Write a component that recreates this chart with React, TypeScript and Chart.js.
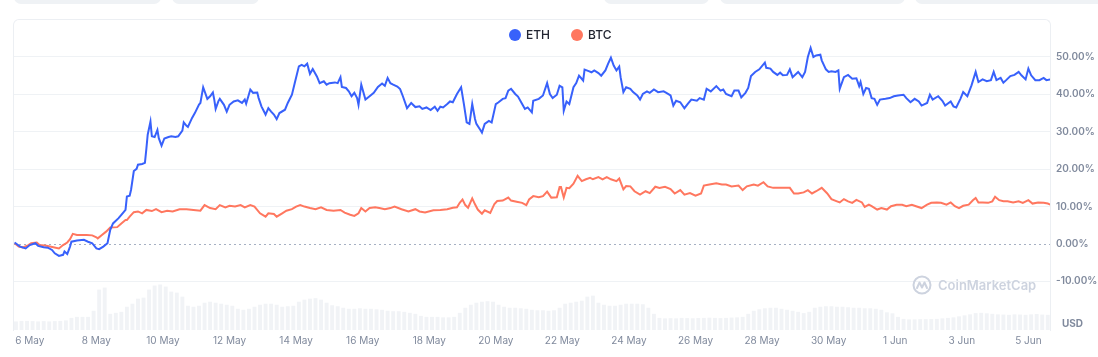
import React, { useEffect, useRef } from "react";
import { Chart, registerables } from "chart.js";

Chart.register(...registerables);

// x axis: hours since 6 May 00:00
const TICK_HOURS = [0, 48, 96, 144, 192, 240, 288, 336, 384, 432, 480, 528, 576, 624, 672, 720];
const DATE_LABELS = ["6 May", "8 May", "10 May", "12 May", "14 May", "16 May", "18 May", "20 May", "22 May", "24 May", "26 May", "28 May", "30 May", "1 Jun", "3 Jun", "5 Jun"];
const Y_TICKS = [-10, 0, 10, 20, 30, 40, 50];

const ETH_HOURS = [-11, -7, -3, 0, 4, 6, 10, 13, 16, 18, 21, 24, 25, 27, 29, 30, 34, 39, 42, 45, 48, 50, 53, 56, 58, 60, 64, 66, 69, 70, 72, 73, 75, 77, 78, 81, 83, 84, 85, 87, 88, 90, 92, 93, 95, 97, 100, 102, 105, 107, 110, 111, 113, 114, 117, 119, 122, 123, 125, 128, 130, 132, 133, 134, 136, 137, 140, 142, 144, 147, 150, 153, 155, 156, 159, 161, 164, 165, 167, 170, 172, 174, 176, 178, 180, 184, 186, 189, 191, 194, 196, 198, 200, 202, 204, 207, 209, 212, 214, 216, 220, 222, 224, 225, 228, 230, 232, 234, 236, 237, 239, 242, 245, 248, 251, 254, 256, 258, 260, 262, 265, 267, 269, 272, 275, 278, 281, 283, 286, 289, 292, 294, 296, 298, 301, 303, 305, 308, 311, 313, 315, 317, 319, 321, 322, 325, 326, 328, 331, 333, 336, 338, 341, 343, 345, 347, 350, 352, 355, 357, 359, 362, 363, 367, 370, 373, 375, 377, 380, 382, 384, 385, 387, 389, 392, 394, 396, 399, 400, 403, 405, 407, 410, 412, 415, 417, 419, 421, 423, 425, 426, 428, 430, 433, 435, 438, 440, 442, 445, 447, 450, 453, 457, 459, 462, 464, 466, 469, 472, 475, 477, 481, 483, 486, 488, 491, 495, 498, 500, 502, 506, 508, 511, 513, 516, 518, 520, 523, 526, 530, 531, 534, 536, 539, 541, 543, 546, 548, 550, 554, 557, 559, 561, 563, 565, 567, 570, 571, 574, 576, 578, 581, 583, 584, 587, 590, 593, 596, 598, 599, 601, 603, 605, 607, 609, 611, 613, 617, 620, 623, 626, 630, 632, 635, 638, 641, 643, 647, 649, 651, 655, 658, 660, 664, 666, 668, 671, 673, 676, 679, 682, 684, 687, 690, 693, 695, 697, 700, 702, 704, 707, 710, 713, 715, 718, 720, 722, 725, 728, 731, 733, 736];
const ETH_CHANGE = [0.4, -0.7, -1.2, -0.3, 0.2, -0.5, -0.9, -1.0, -1.6, -2.5, -3.2, -2.9, -2.0, -2.7, -0.7, 0.6, 0.9, 1.1, 0.6, 0.2, -1.2, -1.4, -0.7, 0.2, 3.8, 5.5, 6.9, 7.8, 9.1, 12.7, 12.9, 14.5, 19.5, 20.1, 21.2, 21.4, 21.7, 25.3, 29.2, 32.7, 28.8, 28.6, 30.5, 28.3, 26.3, 28.2, 28.6, 28.8, 28.6, 28.8, 30.3, 32.5, 31.6, 31.3, 33.7, 35.0, 37.3, 37.7, 41.9, 38.8, 39.5, 40.5, 38.6, 36.1, 38.2, 38.8, 37.2, 35.4, 37.2, 38.1, 38.4, 37.7, 38.6, 37.5, 41.3, 40.4, 40.5, 39.0, 36.8, 34.6, 36.3, 35.4, 34.6, 33.4, 35.0, 35.9, 37.7, 39.9, 43.0, 47.5, 47.9, 47.5, 48.2, 45.5, 46.8, 44.8, 43.0, 43.5, 42.6, 43.0, 43.2, 43.0, 44.6, 42.0, 41.7, 40.8, 39.5, 40.4, 39.0, 37.2, 42.6, 38.6, 39.5, 40.4, 42.0, 42.9, 42.3, 44.4, 43.0, 42.6, 42.1, 41.4, 39.5, 36.3, 37.7, 36.6, 36.8, 36.1, 36.5, 35.8, 36.7, 35.6, 36.7, 36.5, 37.4, 38.1, 37.9, 40.1, 41.9, 37.4, 32.5, 32.1, 37.4, 33.4, 32.1, 30.4, 29.8, 32.1, 32.9, 32.5, 37.4, 37.9, 38.8, 39.0, 41.0, 41.5, 40.1, 39.4, 37.4, 36.1, 36.5, 35.2, 38.3, 38.8, 39.7, 43.0, 40.1, 39.0, 39.9, 42.3, 41.9, 35.6, 38.1, 37.4, 41.9, 43.0, 45.0, 43.7, 46.6, 46.2, 45.9, 46.4, 45.7, 45.0, 46.4, 48.2, 49.8, 47.7, 46.4, 47.4, 44.6, 40.6, 41.9, 41.5, 40.6, 39.7, 38.6, 40.1, 40.8, 40.4, 41.3, 40.6, 40.8, 40.4, 39.7, 37.0, 38.3, 37.9, 36.3, 37.7, 38.6, 38.3, 39.0, 38.6, 41.5, 40.8, 42.2, 41.0, 41.3, 40.1, 39.5, 41.0, 41.0, 39.2, 40.4, 41.7, 44.9, 46.0, 46.7, 48.5, 47.1, 46.9, 46.0, 45.2, 45.8, 45.1, 45.2, 46.7, 44.6, 46.0, 44.6, 46.0, 50.0, 52.4, 50.0, 50.4, 50.6, 49.1, 46.7, 46.0, 46.2, 46.0, 46.4, 41.5, 44.6, 45.2, 44.2, 44.3, 42.2, 43.3, 40.1, 41.7, 41.5, 39.0, 38.8, 37.2, 38.6, 38.8, 39.0, 39.5, 39.7, 39.9, 39.0, 37.9, 38.8, 38.1, 37.0, 37.7, 39.9, 38.6, 39.5, 38.3, 37.0, 38.1, 36.8, 36.5, 38.8, 40.6, 39.5, 42.4, 46.0, 43.3, 44.0, 43.5, 43.8, 46.0, 43.8, 44.4, 43.1, 43.8, 44.9, 45.2, 46.0, 45.1, 44.0, 46.9, 45.1, 43.8, 43.8, 44.4, 43.8, 44.0];

const BTC_HOURS = [-11, -8, -5, -1, 1, 5, 7, 12, 17, 21, 24, 27, 29, 31, 34, 37, 41, 45, 48, 49, 52, 55, 58, 63, 66, 69, 70, 72, 75, 78, 81, 84, 88, 91, 95, 99, 103, 108, 113, 118, 123, 126, 130, 134, 137, 141, 144, 148, 152, 155, 159, 162, 166, 170, 172, 176, 178, 182, 185, 189, 192, 195, 198, 202, 206, 210, 214, 219, 224, 227, 231, 234, 237, 239, 242, 245, 249, 252, 256, 260, 263, 268, 273, 278, 281, 285, 291, 296, 301, 305, 308, 310, 312, 314, 316, 319, 321, 323, 326, 328, 332, 335, 337, 341, 345, 347, 351, 355, 358, 360, 363, 367, 370, 373, 376, 380, 382, 383, 385, 387, 389, 392, 395, 398, 401, 404, 406, 410, 413, 416, 419, 423, 425, 428, 430, 433, 436, 440, 444, 447, 451, 454, 458, 462, 465, 469, 472, 476, 480, 484, 486, 490, 495, 499, 502, 506, 511, 514, 517, 522, 525, 529, 532, 536, 540, 543, 548, 551, 554, 558, 561, 564, 567, 571, 575, 578, 582, 584, 587, 590, 593, 596, 600, 602, 605, 607, 611, 614, 618, 621, 625, 629, 632, 636, 639, 643, 647, 650, 654, 657, 661, 664, 667, 670, 673, 677, 680, 682, 684, 687, 691, 694, 696, 699, 702, 705, 709, 713, 716, 720, 723, 727, 731, 734, 736];
const BTC_CHANGE = [0.2, -0.7, -0.9, -0.3, 0.2, 0.4, -0.3, -0.5, -0.9, -1.2, -0.3, 0.4, 1.3, 2.7, 2.4, 2.4, 2.4, 2.3, 1.8, 1.5, 2.4, 3.3, 4.4, 4.5, 5.5, 6.4, 6.4, 7.3, 8.5, 8.7, 8.2, 9.1, 8.8, 9.3, 8.5, 8.9, 8.7, 9.3, 9.3, 9.1, 8.9, 10.4, 9.6, 9.3, 10.4, 9.8, 10.2, 10.0, 10.4, 9.8, 10.4, 10.0, 8.2, 7.3, 8.2, 8.0, 7.3, 8.2, 8.9, 9.3, 10.0, 10.4, 10.0, 9.6, 9.3, 9.8, 9.1, 8.9, 9.1, 8.4, 7.8, 7.5, 8.2, 9.6, 8.7, 9.6, 9.8, 9.6, 9.3, 9.6, 10.0, 9.3, 8.7, 9.3, 8.7, 8.4, 9.0, 9.1, 9.3, 9.7, 9.8, 11.0, 11.9, 10.4, 9.7, 12.2, 10.6, 9.2, 8.1, 9.0, 8.3, 10.7, 11.5, 11.6, 12.4, 11.6, 11.3, 11.0, 10.4, 11.9, 12.8, 12.5, 12.8, 14.0, 12.4, 12.5, 15.2, 15.2, 12.4, 15.0, 14.9, 16.1, 18.2, 16.8, 17.3, 17.7, 17.3, 17.9, 17.3, 17.9, 17.3, 16.8, 17.5, 14.6, 15.5, 15.4, 14.1, 13.2, 14.1, 13.6, 15.3, 15.0, 15.3, 14.7, 13.5, 14.4, 13.2, 13.6, 12.9, 13.5, 15.6, 15.9, 16.2, 15.9, 15.9, 15.4, 15.6, 14.4, 15.4, 15.9, 15.6, 16.5, 15.4, 15.0, 15.0, 15.0, 15.0, 13.5, 13.5, 13.8, 14.4, 13.5, 14.1, 15.0, 13.5, 12.0, 11.4, 11.1, 12.0, 11.4, 11.0, 11.8, 11.1, 9.9, 10.5, 10.1, 9.2, 9.6, 9.2, 10.1, 10.5, 10.5, 10.1, 10.5, 10.1, 9.6, 10.5, 11.0, 11.1, 11.0, 10.5, 11.1, 10.1, 9.6, 10.2, 10.5, 11.7, 12.3, 11.1, 11.1, 11.0, 11.4, 12.6, 11.7, 11.4, 11.4, 11.1, 11.4, 11.0, 11.7, 10.8, 11.1, 11.0, 10.8, 10.5];

// relative trading volume, one value per 4-hour block starting at hour -10
const VOLUME_START_H = -10;
const VOLUME_STEP_H = 4;
const VOLUME = [8.5, 9, 9, 8.8, 8.5, 8.8, 8.5, 8.8, 9, 9.5, 12, 13, 13, 13, 19, 40, 42, 16, 17, 18, 23, 26, 31, 32, 40, 44, 45, 43, 38, 37, 33, 24, 23, 24, 27, 28, 27, 26, 25, 24, 21, 20, 21, 23, 25, 26, 26, 25, 23, 23.5, 24, 28, 30, 31, 31.5, 30, 27, 24.5, 23.5, 22, 21, 21, 21.5, 21, 21, 20.5, 20, 19, 18.6, 18.6, 18, 17, 16, 14, 13, 13, 13, 12.5, 12.5, 13, 17, 22, 25, 27, 28, 28.5, 28, 25, 23, 22, 22, 21.5, 21, 20, 19.5, 19.5, 19, 19.5, 22, 26, 27, 28, 29, 33, 34, 27, 25, 24, 24, 25, 26, 26, 26, 25.5, 22, 16, 12, 11.5, 11.7, 11.5, 12, 11.8, 11.6, 11.9, 12, 12.2, 12, 11.8, 12, 12.3, 12.5, 13, 16, 19, 20.5, 21.5, 22, 22, 21, 20, 19, 18, 16.7, 18, 22, 23, 23.5, 23.5, 23, 23, 22.5, 22, 22, 21.5, 21.5, 21, 20, 17.5, 16.5, 13, 11, 10.5, 10.5, 10.7, 10.7, 10.8, 11, 11.5, 12, 12.5, 13.5, 14.5, 15.5, 16.7, 17, 16.5, 16, 15.5, 15.3, 15, 15.5, 15.3, 15, 15.5, 15.8, 15.3, 15];

const ETH_COLOR = "#3861fb";
const BTC_COLOR = "#ff775f";
const AXIS_TEXT = "#808a9d";
const GRID = "#eff2f5";
const FONT = "Inter, 'Noto Sans', sans-serif";

const zeroLine = {
  id: "zeroLine",
  beforeDatasetsDraw(chart: any) {
    const y = chart.scales.y;
    const area = chart.chartArea;
    const py = Math.round(y.getPixelForValue(0)) + 0.5;
    const ctx = chart.ctx;
    ctx.save();
    ctx.strokeStyle = "#a6b0c3";
    ctx.lineWidth = 1;
    ctx.setLineDash([2, 3]);
    ctx.beginPath();
    ctx.moveTo(area.left, py);
    ctx.lineTo(area.right, py);
    ctx.stroke();
    ctx.restore();
  },
};

export default function App() {
  const ref = useRef<HTMLCanvasElement>(null);

  useEffect(() => {
    document.body.style.margin = "0";
    const chart = new Chart(ref.current as HTMLCanvasElement, {
      type: "line",
      data: {
        datasets: [
          {
            label: "ETH",
            data: ETH_HOURS.map((h, i) => ({ x: h, y: ETH_CHANGE[i] })),
            borderColor: ETH_COLOR,
            backgroundColor: ETH_COLOR,
            borderWidth: 2,
            pointRadius: 0,
            tension: 0,
            yAxisID: "y",
            order: 0,
          },
          {
            label: "BTC",
            data: BTC_HOURS.map((h, i) => ({ x: h, y: BTC_CHANGE[i] })),
            borderColor: BTC_COLOR,
            backgroundColor: BTC_COLOR,
            borderWidth: 2,
            pointRadius: 0,
            tension: 0,
            yAxisID: "y",
            order: 1,
          },
          {
            type: "bar",
            label: "Volume",
            data: VOLUME.map((v, i) => ({ x: VOLUME_START_H + i * VOLUME_STEP_H, y: v })),
            backgroundColor: "#f1f3f6",
            yAxisID: "vol",
            order: 2,
            barPercentage: 0.7,
            categoryPercentage: 1,
          } as any,
        ],
      },
      options: {
        responsive: false,
        animation: false,
        devicePixelRatio: 1,
        layout: { padding: { left: 14, top: 42, right: 0, bottom: 0 } },
        plugins: { legend: { display: false }, tooltip: { enabled: false } },
        scales: {
          x: {
            type: "linear",
            min: -11.4,
            max: 735.6,
            offset: false,
            grid: { display: false, drawTicks: false },
            border: { display: false },
            afterBuildTicks: (s: any) => {
              s.ticks = TICK_HOURS.map((v) => ({ value: v }));
            },
            afterFit: (s: any) => {
              s.height = 27;
            },
            ticks: {
              autoSkip: false,
              maxRotation: 0,
              padding: 5,
              color: AXIS_TEXT,
              font: { family: FONT, size: 10, weight: "normal" },
              callback: (_v: any, i: number) => DATE_LABELS[i],
            },
          },
          y: {
            position: "right",
            min: -23,
            max: 54,
            afterBuildTicks: (s: any) => {
              s.ticks = Y_TICKS.map((v) => ({ value: v }));
            },
            afterFit: (s: any) => {
              s.width = 48;
            },
            grid: {
              drawTicks: false,
              lineWidth: 1,
              color: (c: any) => (c.tick && c.tick.value === 0 ? "rgba(0,0,0,0)" : GRID),
            },
            border: { display: false },
            ticks: {
              padding: 6,
              color: AXIS_TEXT,
              font: { family: FONT, size: 10, weight: "600" },
              callback: (v: any) => Number(v).toFixed(2) + "%",
            },
          },
          vol: { display: false, min: 0, max: 285 },
        },
      },
      plugins: [zeroLine],
    } as any);
    return () => chart.destroy();
  }, []);

  const tab = (left: number, width: number) => (
    <div
      style={{
        position: "absolute",
        left,
        top: -10,
        width,
        height: 14,
        background: "#eff2f5",
        borderRadius: 8,
      }}
    />
  );

  const legendItem = (left: number, color: string, text: string) => (
    <div style={{ position: "absolute", left, top: 25, height: 20, display: "flex", alignItems: "center" }}>
      <span style={{ width: 12, height: 12, borderRadius: 6, background: color, display: "inline-block" }} />
      <span style={{ marginLeft: 5, fontFamily: FONT, fontSize: 12, fontWeight: 500, color: "#222531", lineHeight: "20px" }}>
        {text}
      </span>
    </div>
  );

  return (
    <div style={{ position: "fixed", left: 0, top: 0, width: 1098, height: 357, background: "#fff", overflow: "hidden" }}>
      {tab(14, 147)}
      {tab(172, 87)}
      {tab(604, 105)}
      {tab(720, 185)}
      {tab(915, 190)}
      <div
        style={{
          position: "absolute",
          left: 13,
          top: 19,
          width: 1038,
          height: 312,
          boxSizing: "border-box",
          border: "1px solid #eceff3",
          borderBottom: "none",
          borderRadius: "6px 6px 0 0",
        }}
      />
      <canvas ref={ref} width={1098} height={357} style={{ position: "absolute", left: 0, top: 0, width: 1098, height: 357 }} />
      {legendItem(509, ETH_COLOR, "ETH")}
      {legendItem(571, BTC_COLOR, "BTC")}
      <div style={{ position: "absolute", left: 912, top: 275, width: 20, height: 20 }}>
        <svg width="20" height="20" viewBox="0 0 20 20">
          <circle cx="10" cy="10" r="8.5" fill="none" stroke="#cdd3df" strokeWidth="2" />
          <polyline points="5,13 7.5,7.5 10,12.5 12.5,7.5 15,13" fill="none" stroke="#cdd3df" strokeWidth="2" strokeLinejoin="round" strokeLinecap="round" />
        </svg>
      </div>
      <div style={{ position: "absolute", left: 938, top: 276, fontFamily: FONT, fontSize: 13, fontWeight: 600, color: "#cdd3df", lineHeight: "18px" }}>
        CoinMarketCap
      </div>
      <div style={{ position: "absolute", left: 1062, top: 317, fontFamily: FONT, fontSize: 10, fontWeight: 700, color: AXIS_TEXT, lineHeight: "12px" }}>
        USD
      </div>
    </div>
  );
}
